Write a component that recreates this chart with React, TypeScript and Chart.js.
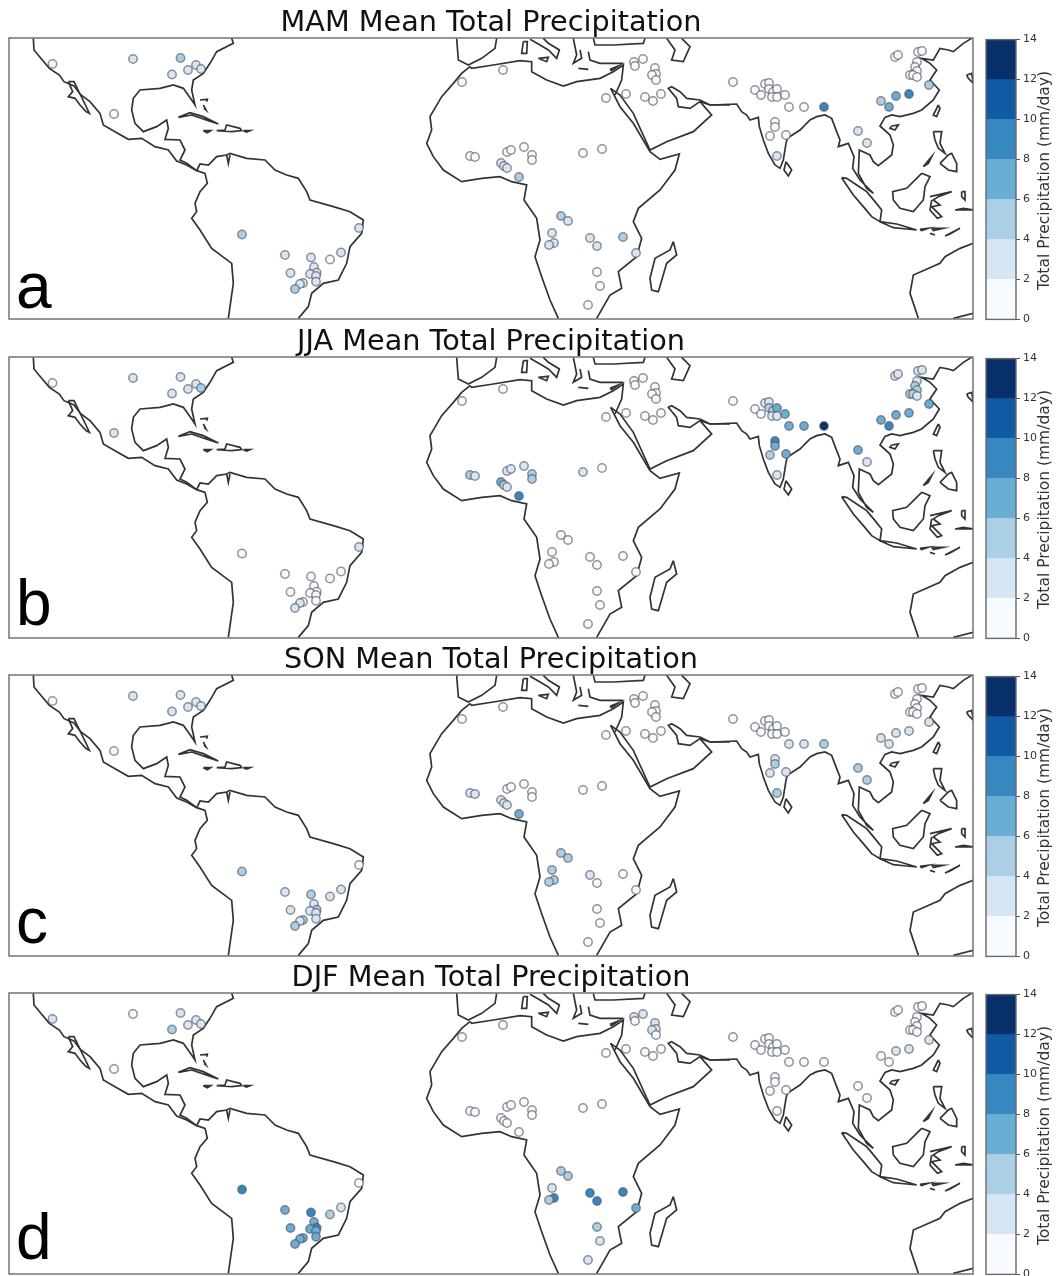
import React, { useEffect, useRef } from "react";
import { Chart, registerables } from "chart.js";

Chart.register(...registerables);

const seasons = ["MAM", "JJA", "SON", "DJF"];
const panelLetters = ["a", "b", "c", "d"];
const panelTops = [38, 357, 675, 993];
const letterBaselines = [270, 268, 268, 266];

const binEdges = [0, 2, 4, 6, 8, 10, 12, 14];
const binColors = ["#f7fbff", "#d6e6f4", "#abd0e6", "#6aaed6", "#3787c0", "#105ba4", "#08306b"];

const stationX = [52.5, 133, 180.5, 172, 188, 196, 201, 114,
  242, 285, 311, 330, 341, 359, 314, 290.5, 316.7, 310, 316, 316, 303, 300, 295,
  503, 462, 634, 643, 635, 655, 656, 652, 656, 661, 645, 653, 626, 606,
  470, 475, 507, 511, 524, 532, 532, 501, 504, 507, 519, 583, 602,
  561, 568, 552, 554, 549, 590, 597, 623, 636, 597, 600, 588,
  733, 755, 761, 765, 769, 769, 773, 777, 772, 777, 785, 789, 804, 824, 775, 775, 770, 786, 777,
  858, 867, 881, 889, 896, 909, 929, 895, 898, 918, 922, 917, 915, 917, 910, 913, 917];
const stationY = [64, 59, 58, 74.5, 70, 65, 69, 114,
  234.5, 255, 257.5, 259.5, 252.5, 228, 267, 273, 272.7, 274, 276, 281.7, 283, 284, 289,
  70, 82, 62, 59, 66, 68, 74, 75, 80, 94, 97, 101, 94, 98,
  156, 157, 152, 150, 147, 155, 160, 163, 166, 168, 177, 153, 149,
  216, 221, 233, 243, 245, 238, 246, 237, 253, 272, 286, 305,
  82, 90, 95, 84, 83, 89, 92, 89, 97, 97, 95, 107, 107, 107, 122, 127, 136, 135, 156,
  131, 143, 101, 107, 96, 94, 85, 57, 55, 52, 51, 62, 67, 71, 75, 75, 77];

const mam = [1, 3, 5, 3, 3, 3, 3, 1,
  5, 3, 3, 1, 3, 3, 3, 3, 3, 3, 3, 3, 3, 3, 5,
  1, 1, 1, 1, 1, 1, 1, 1, 1, 1, 1, 1, 1, 1,
  1, 1, 1, 1, 1, 1, 1, 3, 3, 3, 5, 1, 1,
  5, 3, 3, 3, 3, 3, 3, 5, 3, 1, 1, 1,
  1, 1, 1, 1, 1, 1, 1, 1, 1, 1, 1, 1, 1, 9, 1, 1, 1, 1, 3,
  3, 3, 5, 7, 7, 9, 5, 1, 1, 1, 1, 1, 1, 1, 1, 1, 1];
const jja = [1, 3, 3, 3, 3, 3, 5, 3,
  1, 1, 1, 1, 1, 3, 1, 1, 1, 1, 1, 1, 1, 3, 3,
  1, 1, 1, 1, 1, 1, 1, 1, 1, 1, 1, 1, 1, 1,
  5, 3, 3, 3, 3, 5, 5, 7, 5, 3, 9, 3, 1,
  1, 1, 1, 1, 1, 1, 1, 1, 1, 1, 1, 1,
  1, 1, 1, 3, 3, 5, 5, 7, 3, 3, 7, 7, 7, 13, 9, 7, 5, 7, 3,
  7, 3, 7, 9, 7, 7, 7, 3, 3, 3, 3, 3, 5, 5, 5, 5, 3];
const son = [1, 3, 3, 3, 3, 3, 3, 1,
  5, 3, 5, 3, 3, 1, 3, 3, 5, 3, 3, 3, 5, 3, 5,
  1, 1, 1, 1, 1, 1, 1, 1, 1, 1, 1, 1, 1, 1,
  3, 3, 1, 1, 1, 1, 1, 3, 3, 3, 7, 1, 1,
  5, 5, 5, 5, 5, 3, 1, 1, 1, 1, 1, 1,
  1, 1, 1, 1, 1, 1, 1, 1, 1, 1, 1, 3, 3, 5, 3, 5, 3, 3, 5,
  5, 5, 3, 3, 3, 3, 3, 1, 1, 1, 1, 1, 1, 1, 1, 1, 1];
const djf = [3, 1, 3, 5, 3, 3, 3, 1,
  9, 7, 9, 5, 3, 1, 7, 7, 9, 7, 7, 7, 7, 7, 7,
  1, 1, 3, 3, 1, 3, 3, 3, 1, 1, 1, 1, 1, 1,
  1, 1, 1, 1, 1, 1, 1, 1, 1, 1, 1, 1, 1,
  5, 5, 3, 9, 5, 9, 9, 9, 7, 5, 3, 3,
  1, 1, 1, 1, 1, 1, 1, 1, 1, 1, 1, 1, 1, 1, 1, 1, 1, 1, 1,
  1, 1, 1, 1, 3, 3, 3, 1, 1, 1, 1, 1, 1, 1, 1, 1, 1];
const seasonValues = [mam, jja, son, djf];

// Coastlines; each entry lists x, y pairs on a 3x grid
const americas = [
  [100, 115, 102, 150, 125, 178, 148, 205, 178, 225, 192, 245, 222, 258, 242, 284, 270, 305, 300, 340, 310, 375, 345, 395, 385, 418, 425, 415, 465, 440, 505, 450, 530, 483, 560, 495, 590, 512, 615, 520, 622, 550, 600, 575, 585, 610, 590, 635, 575, 655, 600, 690, 635, 745, 695, 790, 700, 850, 685, 955],
  [590, 512, 600, 492, 625, 495, 650, 470, 680, 465, 690, 460, 740, 475, 795, 480, 825, 510, 860, 525, 895, 535, 920, 575, 930, 600, 1000, 620, 1050, 635, 1090, 660, 1085, 700, 1050, 740, 1040, 790, 1015, 840, 970, 850, 935, 880, 925, 920, 895, 955],
  [590, 512, 560, 490, 540, 480, 555, 450, 540, 420, 495, 418, 505, 385, 500, 360, 470, 380, 430, 395, 405, 370, 395, 330, 400, 295, 420, 270, 480, 265, 520, 255, 550, 265, 575, 300, 585, 315, 575, 270, 580, 240, 610, 220, 630, 190, 650, 155, 700, 130, 695, 115],
  [205, 245, 222, 245, 240, 282, 255, 312, 268, 340, 258, 335, 240, 315, 225, 295, 205, 290, 218, 275, 205, 245],
  [535, 352, 570, 338, 610, 350, 655, 372, 625, 362, 575, 345, 535, 352],
  [650, 392, 675, 390, 680, 375, 720, 385, 725, 392, 695, 395, 650, 392],
  [610, 392, 632, 392, 622, 398, 610, 392],
  [730, 392, 750, 392, 740, 396, 730, 392],
  [600, 300, 622, 298, 620, 305],
  [610, 315, 618, 330, 612, 325],
  [680, 465, 685, 490, 690, 465],
];
const africaMideast = [
  [210, 200, 185, 220, 160, 250, 125, 290, 90, 350, 95, 390, 80, 430, 100, 470, 130, 510, 185, 545, 245, 535, 300, 530, 335, 545, 380, 555, 372, 600, 410, 655, 420, 720, 405, 770, 425, 830, 450, 900, 475, 955],
  [590, 955, 630, 885, 665, 865, 655, 815, 710, 770, 725, 715, 700, 665, 715, 625, 780, 570, 825, 510, 838, 462, 780, 478, 750, 455, 700, 370, 660, 320, 632, 265],
  [645, 285, 665, 240, 670, 195, 640, 215, 600, 235, 530, 245, 490, 258, 440, 240, 395, 215, 395, 185, 360, 182, 280, 195, 215, 205, 210, 200],
  [632, 265, 660, 285, 700, 340, 750, 450, 800, 425, 880, 395, 935, 345, 900, 305, 870, 325, 835, 320, 830, 295, 805, 265, 815, 260, 840, 275, 860, 295, 900, 300, 930, 315, 990, 315],
  [170, 115, 175, 180, 205, 195, 245, 175, 285, 145, 290, 115],
  [390, 118, 420, 135, 445, 150, 470, 175, 478, 150, 445, 130, 430, 115],
  [370, 125, 382, 125, 380, 160, 365, 160, 370, 125],
  [415, 175, 445, 172, 440, 185, 415, 175],
  [520, 115, 530, 165, 520, 190, 545, 175, 540, 150],
  [535, 205, 565, 208],
  [630, 208, 655, 198, 635, 212, 630, 208],
  [580, 115, 585, 135, 640, 135, 730, 130, 735, 115],
  [565, 155, 570, 180, 600, 190, 640, 190, 670, 190],
  [800, 115, 825, 150, 815, 180, 850, 185, 870, 140, 845, 115],
  [820, 725, 830, 765, 800, 790, 775, 875, 755, 870, 750, 835, 765, 775, 810, 750, 820, 725],
];
const asiaOceania = [
  [0, 305, 30, 315, 110, 312, 125, 335, 140, 345, 150, 360, 175, 352, 178, 380, 190, 420, 205, 460, 225, 495, 240, 505, 250, 480, 258, 430, 262, 415, 285, 400, 300, 390, 330, 360, 350, 350, 375, 345, 395, 355, 410, 395, 420, 420, 415, 440, 445, 430, 462, 470, 458, 505, 480, 540, 520, 580, 500, 565, 475, 520, 478, 450, 510, 465, 520, 485, 535, 497, 575, 465, 580, 435, 570, 405, 540, 378, 555, 352, 575, 345, 600, 350, 640, 340, 665, 330, 700, 300, 718, 270, 690, 240, 710, 210, 690, 190, 665, 175, 700, 180, 720, 145, 745, 150, 760, 155, 790, 130, 815, 115],
  [800, 225, 815, 220, 820, 250, 805, 235, 800, 225],
  [258, 485, 275, 510, 265, 528, 252, 510, 258, 485],
  [715, 315, 720, 325, 710, 350, 700, 345, 715, 315],
  [575, 378, 595, 375, 585, 390, 570, 385, 575, 378],
  [700, 395, 725, 395, 720, 430, 735, 460, 715, 445, 705, 420, 700, 395],
  [720, 490, 745, 465, 755, 460, 770, 490, 770, 515, 745, 510, 720, 490],
  [670, 500, 695, 470, 685, 490, 670, 500],
  [665, 520, 690, 530, 675, 560, 670, 600, 640, 635, 600, 625, 580, 600, 578, 575, 620, 565, 665, 520],
  [690, 590, 755, 575, 715, 590, 700, 600, 720, 615, 695, 620, 725, 650, 712, 655, 690, 630, 695, 600],
  [425, 533, 440, 535, 470, 555, 500, 575, 525, 605, 545, 630, 540, 665, 515, 650, 490, 620, 460, 585, 425, 533],
  [540, 665, 590, 672, 650, 690, 620, 687, 580, 683, 540, 665],
  [660, 688, 685, 685, 665, 692, 660, 688],
  [695, 685, 730, 685, 700, 692, 695, 685],
  [690, 700, 705, 705],
  [735, 708, 780, 685, 750, 702, 735, 708],
  [765, 630, 820, 630, 790, 625, 765, 630],
  [785, 575, 795, 575, 795, 600, 785, 590, 785, 575],
  [820, 730, 780, 745, 735, 770, 720, 790, 640, 825, 630, 880, 655, 955],
  [760, 955, 820, 940],
];

const coastGroups: [number[][], number][] = [[americas, 0], [africaMideast, 400], [asiaOceania, 700]];

const coastDatasets = () =>
  coastGroups.flatMap(([lines, offset]) =>
    lines.map((line) => {
      const data = [];
      for (let i = 0; i < line.length; i += 2) data.push({ x: offset + line[i] / 3, y: line[i + 1] / 3 });
      return { type: "scatter", data, showLine: true, pointRadius: 0, borderColor: "#333", borderWidth: 1.7, tension: 0 };
    })
  );

const binColor = (v: number) => binColors[Math.min(binColors.length - 1, Math.floor(v / 2))];
const FONT = "'DejaVu Sans', sans-serif";

const framePlugin = {
  id: "frame",
  afterDraw(chart: any) {
    const { ctx, chartArea: a } = chart;
    ctx.save();
    ctx.strokeStyle = "#6a6a6a";
    ctx.lineWidth = 1.4;
    ctx.strokeRect(a.left, a.top, a.right - a.left, a.bottom - a.top);
    ctx.restore();
  },
};

function Panel({ index }: { index: number }) {
  const mapRef = useRef<HTMLCanvasElement>(null);
  const barRef = useRef<HTMLCanvasElement>(null);
  const season = seasons[index];
  const top = panelTops[index];

  useEffect(() => {
    const values = seasonValues[index];
    const letterPlugin = {
      id: "letter",
      afterDraw(chart: any) {
        const { ctx, chartArea: a } = chart;
        ctx.save();
        ctx.fillStyle = "#000";
        ctx.font = "64px 'Liberation Sans', Arial, sans-serif";
        ctx.textBaseline = "alphabetic";
        ctx.fillText(panelLetters[index], 16, a.top + letterBaselines[index]);
        ctx.restore();
      },
    };
    const map = new Chart(mapRef.current!, {
      type: "scatter",
      data: {
        datasets: [
          {
            data: stationX.map((x, i) => ({ x, y: stationY[i] })),
            pointRadius: 4.2,
            pointBackgroundColor: values.map(binColor),
            pointBorderColor: "rgba(80,80,90,0.62)",
            pointBorderWidth: 1.5,
            showLine: false,
          },
          ...coastDatasets(),
        ] as any,
      },
      options: {
        responsive: false,
        animation: false,
        events: [],
        layout: { autoPadding: false, padding: { left: 9, right: 2, top: 0, bottom: 1 } },
        plugins: {
          legend: { display: false },
          tooltip: { enabled: false },
          title: {
            display: true,
            text: `${season} Mean Total Precipitation`,
            color: "#111",
            font: { family: FONT, size: 28.7, weight: "normal", lineHeight: 1 },
            padding: { top: 8.8, bottom: 0.5 },
          },
        },
        scales: {
          x: { type: "linear", min: 9, max: 973, display: false },
          y: { type: "linear", min: 38, max: 319, reverse: true, display: false },
        },
      } as any,
      plugins: [framePlugin, letterPlugin],
    });

    const labelPlugin = {
      id: "barLabel",
      afterDraw(chart: any) {
        const { ctx, chartArea: a } = chart;
        ctx.save();
        ctx.translate(65, (a.top + a.bottom) / 2 + 1);
        ctx.rotate(-Math.PI / 2);
        ctx.fillStyle = "#333";
        ctx.font = `15.5px ${FONT}`;
        ctx.textAlign = "center";
        ctx.textBaseline = "middle";
        ctx.fillText("Total Precipitation (mm/day)", 0, 0);
        ctx.restore();
      },
    };
    const bar = new Chart(barRef.current!, {
      type: "bar",
      data: {
        labels: ["Total Precipitation (mm/day)"],
        datasets: binColors.map((c, i) => ({
          data: [[binEdges[i], binEdges[i + 1]]],
          backgroundColor: c,
          borderWidth: 0,
          barPercentage: 1,
          categoryPercentage: 1,
          grouped: false,
        })),
      } as any,
      options: {
        responsive: false,
        animation: false,
        events: [],
        layout: { padding: { left: 6, right: 22, top: 0, bottom: 0 } },
        plugins: { legend: { display: false }, tooltip: { enabled: false } },
        scales: {
          x: { display: false },
          y: {
            position: "right",
            min: 0,
            max: 14,
            afterFit(s: any) { s.width = 22; },
            border: { display: false },
            grid: { drawOnChartArea: false, drawTicks: true, tickLength: 4, color: "#555" },
            ticks: { stepSize: 2, color: "#333", padding: 3, font: { family: FONT, size: 11 } },
          },
        },
      } as any,
      plugins: [framePlugin, labelPlugin],
    });
    return () => {
      map.destroy();
      bar.destroy();
    };
  }, [index, season]);

  return (
    <>
      <canvas
        ref={mapRef}
        width={975}
        height={320}
        style={{ position: "absolute", left: 0, top: top - 38, width: 975, height: 320, filter: "blur(0.5px)" }}
      />
      <div style={{ position: "absolute", left: 980, top: top - 12, width: 80, height: 12 + 281 + 3, overflow: "hidden" }}>
        <canvas
          ref={barRef}
          width={80}
          height={299}
          style={{ display: "block", width: 80, height: 299, filter: "blur(0.5px)", marginTop: 4 }}
        />
      </div>
    </>
  );
}

export default function App() {
  return (
    <div style={{ position: "absolute", left: 0, top: 0, width: 1060, height: 1276, background: "#fff", overflow: "hidden" }}>
      {seasons.map((s, i) => (
        <Panel key={s} index={i} />
      ))}
    </div>
  );
}
